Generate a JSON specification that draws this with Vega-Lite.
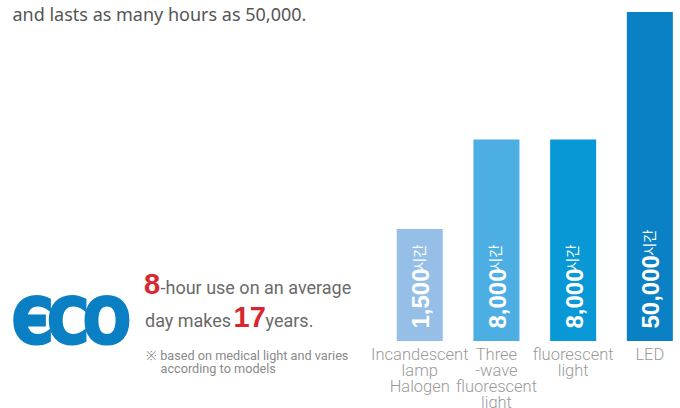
{
  "$schema": "https://vega.github.io/schema/vega-lite/v6.json",
  "width": 680,
  "height": 341,
  "autosize": {"type": "none"},
  "padding": {"left": 0, "top": 0, "right": 0, "bottom": 67},
  "background": "white",
  "config": {"view": {"stroke": null}},
  "datasets": {
    "lamps": [
      {"lamp": "Incandescent\nlamp\nHalogen", "hours": 1500},
      {"lamp": "Three\n-wave\nfluorescent\nlight", "hours": 8000},
      {"lamp": "fluorescent\nlight", "hours": 8000},
      {"lamp": "LED", "hours": 50000}
    ],
    "one": [{}]
  },
  "layer": [
    {
      "data": {"name": "one"},
      "mark": {"type": "rule", "x": 128, "x2": 673, "y": 337, "stroke": "#0a7fc4", "strokeWidth": 6},
      "encoding": {}
    },
    {
      "data": {"name": "lamps"},
      "mark": {"type": "bar"},
      "encoding": {
        "x": {
          "field": "lamp", "type": "nominal", "sort": null,
          "scale": {"range": [381.4, 688.2], "paddingInner": 0.4, "paddingOuter": 0.2},
          "axis": {
            "title": null, "domain": false, "ticks": false, "labelAngle": 0,
            "labelExpr": "split(datum.label, '\\n')",
            "labelFont": "Roboto", "labelFontWeight": 300,
            "labelFontSize": 16.5, "labelLineHeight": 16, "labelColor": "#9a9a9a",
            "labelPadding": 5.7, "labelOverlap": false, "labelBound": false, "labelFlush": false
          }
        },
        "y": {
          "field": "hours", "type": "quantitative",
          "scale": {"type": "pow", "exponent": 0.15, "domain": [78.8, 58050], "zero": false, "nice": false},
          "axis": null
        },
        "y2": {"datum": 78.8},
        "color": {
          "field": "lamp", "type": "nominal", "sort": null,
          "scale": {"range": ["#95bfe7", "#4daee3", "#0898d5", "#0a80c5"]},
          "legend": null
        }
      }
    },
    {
      "data": {"name": "lamps"},
      "mark": {"type": "text", "angle": 270, "align": "left", "baseline": "alphabetic", "dx": 12.5, "dy": 9.6, "y": "height",
               "font": "Liberation Sans, Arial, sans-serif", "fontWeight": "bold", "fontSize": 24, "fill": "white"},
      "encoding": {
        "x": {"field": "lamp", "type": "nominal", "sort": null},
        "text": {"field": "hours", "type": "quantitative", "format": ","}
      }
    },
    {
      "data": {"name": "lamps"},
      "mark": {"type": "text", "text": "시간", "angle": 270, "align": "left", "baseline": "middle",
               "dx": {"expr": "datum.hours >= 10000 ? 85 : 70"}, "dy": 1, "y": "height",
               "font": "Noto Sans CJK KR", "fontSize": 14.5, "fill": "white"},
      "encoding": {
        "x": {"field": "lamp", "type": "nominal", "sort": null}
      }
    },
    {
      "data": {"name": "one"},
      "mark": {"type": "text", "text": "and lasts as many hours as 50,000.", "x": 12.5, "y": 20.7, "align": "left", "baseline": "alphabetic",
               "font": "Noto Sans", "fontSize": 18, "fill": "#555555"},
      "encoding": {}
    },
    {
      "data": {"name": "one"},
      "mark": {"type": "text", "text": "Є", "x": 32.5, "y": 343, "align": "center", "baseline": "alphabetic",
               "font": "DejaVu Sans Condensed", "fontWeight": "bold", "fontSize": 62,
               "fill": "#0a7fc4", "stroke": "#0a7fc4", "strokeWidth": 3},
      "encoding": {}
    },
    {
      "data": {"name": "one"},
      "mark": {"type": "text", "text": "C", "x": 68, "y": 343, "align": "center", "baseline": "alphabetic",
               "font": "DejaVu Sans Condensed", "fontWeight": "bold", "fontSize": 62,
               "fill": "#0a7fc4", "stroke": "#0a7fc4", "strokeWidth": 3},
      "encoding": {}
    },
    {
      "data": {"name": "one"},
      "mark": {"type": "text", "text": "O", "x": 107, "y": 343, "align": "center", "baseline": "alphabetic",
               "font": "DejaVu Sans Condensed", "fontWeight": "bold", "fontSize": 62,
               "fill": "#0a7fc4", "stroke": "#0a7fc4", "strokeWidth": 3},
      "encoding": {}
    },
    {
      "data": {"name": "one"},
      "mark": {"type": "text", "text": "8", "x": 144, "y": 293.5, "align": "left", "baseline": "alphabetic",
               "font": "Liberation Sans, Arial, sans-serif", "fontWeight": "bold", "fontSize": 29, "fill": "#d7282f"},
      "encoding": {}
    },
    {
      "data": {"name": "one"},
      "mark": {"type": "text", "text": "-hour use on an average", "x": 160.5, "y": 293.5, "align": "left", "baseline": "alphabetic",
               "font": "Roboto", "fontSize": 18, "fill": "#6a6a6a"},
      "encoding": {}
    },
    {
      "data": {"name": "one"},
      "mark": {"type": "text", "text": "day makes", "x": 145, "y": 327, "align": "left", "baseline": "alphabetic",
               "font": "Roboto", "fontSize": 18, "fill": "#6a6a6a"},
      "encoding": {}
    },
    {
      "data": {"name": "one"},
      "mark": {"type": "text", "text": "17", "x": 233.5, "y": 327, "align": "left", "baseline": "alphabetic",
               "font": "Liberation Sans, Arial, sans-serif", "fontWeight": "bold", "fontSize": 29, "fill": "#d7282f"},
      "encoding": {}
    },
    {
      "data": {"name": "one"},
      "mark": {"type": "text", "text": "years.", "x": 265.5, "y": 327, "align": "left", "baseline": "alphabetic",
               "font": "Roboto", "fontSize": 18, "fill": "#6a6a6a"},
      "encoding": {}
    },
    {
      "data": {"name": "one"},
      "mark": {"type": "text", "text": "※ based on medical light and varies", "x": 146, "y": 360, "align": "left", "baseline": "alphabetic",
               "font": "Roboto", "fontSize": 12.7, "fill": "#8a8a8a"},
      "encoding": {}
    },
    {
      "data": {"name": "one"},
      "mark": {"type": "text", "text": "according to models", "x": 160.5, "y": 372.5, "align": "left", "baseline": "alphabetic",
               "font": "Roboto", "fontSize": 12.7, "fill": "#8a8a8a"},
      "encoding": {}
    }
  ]
}
